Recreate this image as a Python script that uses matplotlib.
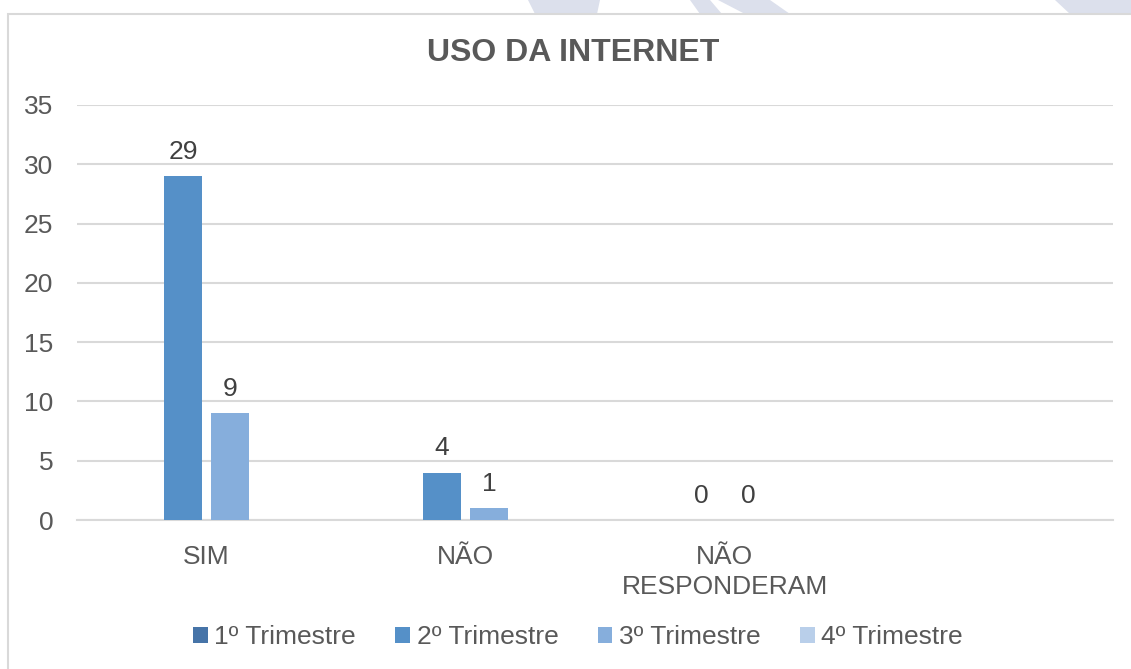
import numpy as np
import matplotlib
matplotlib.use("Agg")
import matplotlib.pyplot as plt
from matplotlib.patches import Rectangle, Polygon

plt.rcParams['font.family'] = ['Liberation Sans', 'DejaVu Sans']

title = "USO DA INTERNET"
categories = ["SIM", "NÃO", "NÃO\nRESPONDERAM", ""]
series_names = ["1º Trimestre", "2º Trimestre", "3º Trimestre", "4º Trimestre"]
s1 = [np.nan, np.nan, np.nan, np.nan]
s2 = [29, 4, 0, np.nan]
s3 = [9, 1, 0, np.nan]
s4 = [np.nan, np.nan, np.nan, np.nan]
series_values = [s1, s2, s3, s4]
colors = ["#4674A8", "#5590C8", "#86AEDC", "#B9CFEA"]
yticks = [0, 5, 10, 15, 20, 25, 30, 35]

W, H = 1131, 669
fig = plt.figure(figsize=(W / 100, H / 100), dpi=100)

# faint watermark shapes at the top
wm = "#DCE0EC"
for pts in [[(528, 0), (600, 0), (597, 14), (535, 14)],
            [(690, 0), (710, 0), (722, 14), (700, 14)],
            [(718, 0), (770, 0), (790, 14), (745, 14)],
            [(1055, 0), (1131, 0), (1131, 14), (1070, 14)]]:
    fig.patches.append(Polygon([(x / W, 1 - y / H) for x, y in pts],
                               closed=True, transform=fig.transFigure,
                               facecolor=wm, edgecolor="none", zorder=0))

# chart border
fig.patches.append(Rectangle((8 / W, -0.05), 1.2, 1 - 14 / H + 0.05,
                             transform=fig.transFigure, facecolor="white",
                             edgecolor="#D9D9D9", linewidth=1.5, zorder=1))

ax = fig.add_axes([77 / W, 1 - 520 / H, (1113 - 77) / W, (520 - 105) / H])
ax.set_zorder(2)
ax.patch.set_visible(False)

FS = 19
x = np.arange(len(categories))
width = 0.143
step = 0.1815
for i, (name, vals, c) in enumerate(zip(series_names, series_values, colors)):
    pos = x + (i - 1.5) * step
    ax.bar(pos, vals, width, color=c, label=name, zorder=3)
    for p, v in zip(pos, vals):
        if not np.isnan(v):
            ax.annotate(f"{int(v)}", (p, v), xytext=(0, 12.5),
                        textcoords="offset points", ha="center", va="baseline",
                        fontsize=FS, color="#404040", zorder=4)

ax.set_xlim(-0.5, len(categories) - 0.5)
ax.set_ylim(0, 35)
ax.set_yticks(yticks)
ax.set_xticks(x)
ax.set_xticklabels(categories, fontsize=FS, color="#595959", linespacing=1.3)
ax.tick_params(axis="y", labelsize=FS, labelcolor="#595959", length=0, pad=17)
ax.tick_params(axis="x", length=0, pad=18)
ax.grid(axis="y", color="#D9D9D9", linewidth=1.5, zorder=0)
ax.set_axisbelow(True)
for side in ["top", "right", "left"]:
    ax.spines[side].set_visible(False)
ax.spines["bottom"].set_color("#D9D9D9")
ax.spines["bottom"].set_linewidth(1.5)

fig.text(573 / W, 1 - 53 / H, title, ha="center", va="center",
         fontsize=23, fontweight="bold", color="#595959")

leg = fig.legend(loc="center", bbox_to_anchor=(578 / W, 1 - 637 / H),
                 ncol=4, frameon=False, fontsize=FS, handlelength=0.55,
                 handleheight=0.55, handletextpad=0.25, columnspacing=1.5)
for t in leg.get_texts():
    t.set_color("#595959")

fig.savefig("out.png", dpi=100)
